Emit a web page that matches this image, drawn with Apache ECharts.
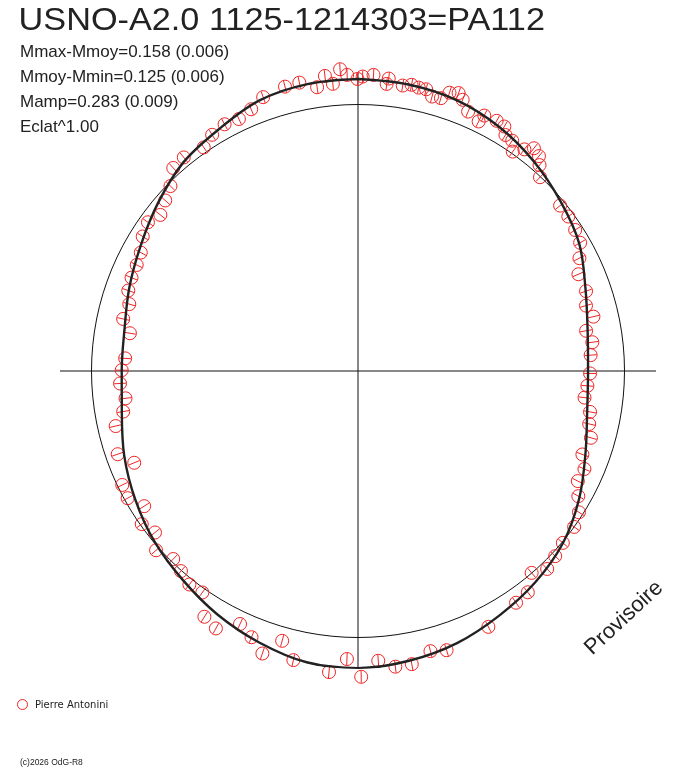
<!DOCTYPE html>
<html><head><meta charset="utf-8">
<script src="https://cdn.jsdelivr.net/npm/echarts@6/dist/echarts.min.js"></script>
<style>html,body{margin:0;padding:0;background:#fff}#c{width:688px;height:768px}</style>
</head><body><div id="c"></div>
<script>
const titleText = 'USNO-A2.0 1125-1214303=PA112';
const statLines = ['Mmax-Mmoy=0.158 (0.006)', 'Mmoy-Mmin=0.125 (0.006)', 'Mamp=0.283 (0.009)', 'Eclat^1.00'];
const observerName = 'Pierre Antonini';
const copyrightText = '(c)2026 OdG-R8';
const stampText = 'Provisoire';

// Phase as angle in degrees (0 at top, clockwise) and brightness relative to mean (mag, + = brighter)
const pointPhaseDeg = [
  0.9, 3.0, 6.0, 5.7, 8.9, 10.6, 12.1, 13.6, 15.1, 16.9, 18.2, 19.9, 21.1, 23.0, 26.3, 25.8, 29.0, 30.9, 32.0, 33.8,
  35.2, 36.9, 38.3, 40.1, 41.4, 43.2, 50.7, 53.7, 57.0, 60.0, 63.0, 66.3, 70.7, 74.0, 77.0, 80.0, 83.0, 86.1, 90.6, 93.7,
  96.7, 100.0, 102.9, 106.0, 110.4, 113.4, 116.6, 119.6, 122.6, 125.8, 130.0, 133.2, 136.3, 139.3, 142.5, 145.7, 153.0, 162.4, 165.5, 169.6,
  172.8, 176.0, 179.4, 182.2, 185.5, 192.6, 195.7, 198.7, 201.8, 205.0, 208.9, 212.0, 215.1, 218.3, 221.5, 224.5, 228.4, 231.5, 234.7, 237.7,
  241.1, 244.2, 247.7, 250.9, 257.2, 260.2, 263.3, 267.0, 270.2, 273.1, 279.4, 282.5, 286.3, 289.3, 292.4, 295.6, 298.6, 302.0, 305.3, 308.3,
  311.5, 314.6, 317.7, 320.8, 325.4, 328.3, 331.6, 334.7, 337.8, 340.9, 345.6, 348.5, 351.8, 355.0, 353.6, 357.9, 356.6, 359.9
];
const pointDeltaMag = [
  0.126, 0.135, 0.124, 0.099, 0.101, 0.111, 0.105, 0.105, 0.080, 0.084, 0.119, 0.131, 0.109, 0.069, 0.083, 0.048, 0.088, 0.083, 0.053, 0.048,
  0.009, 0.048, 0.078, 0.065, 0.036, -0.003, -0.024, -0.025, -0.034, -0.045, -0.081, -0.116, -0.112, -0.132, -0.112, -0.157, -0.137, -0.150, -0.155, -0.165,
  -0.173, -0.139, -0.132, -0.109, -0.122, -0.089, -0.093, -0.059, -0.019, 0.000, 0.004, 0.018, 0.033, -0.001, 0.056, 0.063, 0.093, 0.119, 0.103, 0.142,
  0.142, 0.108, 0.177, 0.098, 0.162, 0.134, 0.062, 0.143, 0.091, 0.057, 0.124, 0.105, 0.019, 0.025, 0.003, -0.013, 0.016, -0.032, -0.007, -0.061,
  -0.015, -0.021, -0.111, -0.055, -0.081, -0.127, -0.146, -0.127, -0.136, -0.150, -0.159, -0.117, -0.127, -0.104, -0.097, -0.095, -0.086, -0.057, -0.041, -0.066,
  -0.041, -0.014, 0.036, 0.041, 0.023, 0.050, 0.063, 0.055, 0.073, 0.105, 0.122, 0.125, 0.091, 0.098, 0.137, 0.134, 0.161, 0.115
];
const pointErrMag = 0.027;

// Fitted light curve
const fitPhaseDeg = [0, 10, 20, 30, 40, 50, 60, 70, 80, 90, 100, 110, 120, 130, 140, 150, 160, 170, 180,
  190, 200, 210, 220, 230, 240, 250, 260, 270, 280, 290, 300, 310, 320, 330, 340, 350, 360];
const fitDeltaMag = [0.115, 0.110, 0.098, 0.070, 0.032, -0.010, -0.050, -0.110, -0.150, -0.164, -0.152, -0.110, -0.050, 0.005, 0.042, 0.072, 0.104, 0.125, 0.138,
  0.132, 0.101, 0.066, 0.028, -0.004, -0.042, -0.080, -0.120, -0.136, -0.132, -0.104, -0.070, -0.024, 0.025, 0.056, 0.097, 0.112, 0.115];

const RED = '#f02424';
const FONT = "'Liberation Sans', Arial, sans-serif";
const chart = echarts.init(document.getElementById('c'), null, {renderer: 'canvas'});

const graphics = [
  {type: 'text', x: 20, y: 21, scaleX: 1.07, originX: 20, originY: 21,
    style: {text: titleText, font: '32px ' + FONT, fill: '#222', verticalAlign: 'middle'}},
  {type: 'circle', shape: {cx: 22.5, cy: 704.5, r: 5}, style: {fill: 'none', stroke: RED, lineWidth: 1}},
  {type: 'text', x: 35, y: 705, style: {text: observerName, font: "10px 'DejaVu Sans', sans-serif", fill: '#222', verticalAlign: 'middle'}},
  {type: 'text', x: 20, y: 763, style: {text: copyrightText, font: '8.5px ' + FONT, fill: '#222', verticalAlign: 'middle'}},
  {type: 'text', x: 624, y: 618, rotation: 43 * Math.PI / 180, style: {text: stampText, font: '22px ' + FONT, fill: '#222', align: 'center', verticalAlign: 'middle'}}
];
statLines.forEach((t, i) => {
  graphics.push({type: 'text', x: 20, y: 52 + i * 25, style: {text: t, font: '17px ' + FONT, fill: '#222', verticalAlign: 'middle'}});
});

chart.setOption({
  animation: false,
  backgroundColor: '#fff',
  polar: [
    {center: [358, 371], radius: 298},
    {center: [358, 371], radius: 266.5}
  ],
  angleAxis: [
    {polarIndex: 0, type: 'value', min: 0, max: 360, interval: 90, startAngle: 90, clockwise: true,
      axisLine: {show: false}, axisTick: {show: false}, axisLabel: {show: false},
      splitLine: {show: true, lineStyle: {color: '#111', width: 1}}},
    {polarIndex: 1, type: 'value', min: 0, max: 360, interval: 90, startAngle: 90, clockwise: true,
      axisLine: {show: true, lineStyle: {color: '#111', width: 1}}, axisTick: {show: false}, axisLabel: {show: false},
      splitLine: {show: false}}
  ],
  radiusAxis: [
    {polarIndex: 0, type: 'value', min: -1.2, max: 0.142, show: false},
    {polarIndex: 1, type: 'value', min: -1.2, max: 0, show: false}
  ],
  graphic: graphics,
  series: [
    {
      type: 'custom', coordinateSystem: 'polar', polarIndex: 1, z: 2,
      encode: {radius: 0, angle: 1},
      data: pointPhaseDeg.map((a, i) => [pointDeltaMag[i], a, pointErrMag]),
      renderItem: (params, api) => {
        const r = api.value(0), a = api.value(1), e = api.value(2);
        const p = api.coord([r, a]);
        const p1 = api.coord([r - e, a]);
        const p2 = api.coord([r + e, a]);
        return {type: 'group', children: [
          {type: 'circle', shape: {cx: p[0], cy: p[1], r: 6.5}, style: {fill: 'none', stroke: RED, lineWidth: 1}},
          {type: 'line', shape: {x1: p1[0], y1: p1[1], x2: p2[0], y2: p2[1]}, style: {stroke: RED, lineWidth: 1}}
        ]};
      }
    },
    {
      type: 'line', coordinateSystem: 'polar', polarIndex: 0, z: 3, clip: false,
      data: fitPhaseDeg.map((a, i) => [fitDeltaMag[i], a]),
      smooth: 0.35, symbol: 'none', silent: true,
      lineStyle: {color: '#222', width: 2.4}
    }
  ]
});
</script></body></html>
